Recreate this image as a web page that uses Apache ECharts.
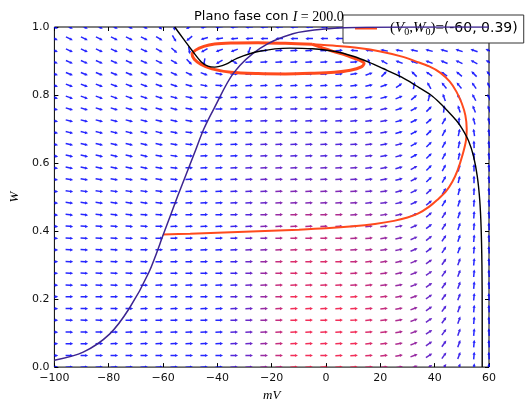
<!DOCTYPE html>
<html>
<head>
<meta charset="utf-8">
<script src="https://cdn.jsdelivr.net/npm/echarts@6/dist/echarts.min.js"></script>
<style>
  html, body { margin: 0; padding: 0; background: #fff; }
  #chart { width: 527px; height: 407px; }
</style>
</head>
<body>
<div id="chart"></div>
<script>
// Axis ticks
const xTicks = [-100, -80, -60, -40, -20, 0, 20, 40, 60];
const yTicks = [0.0, 0.2, 0.4, 0.6, 0.8, 1.0];

// Direction-field sample points (V columns, W rows from top to bottom)
const gridV = [-100, -94.48, -88.97, -83.45, -77.93, -72.41, -66.90, -61.38, -55.86, -50.34,
  -44.83, -39.31, -33.79, -28.28, -22.76, -17.24, -11.72, -6.21, -0.69, 4.83,
  10.34, 15.86, 21.38, 26.90, 32.41, 37.93, 43.45, 48.97, 54.48, 60];
const gridW = [1.000, 0.966, 0.931, 0.897, 0.862, 0.828, 0.793, 0.759, 0.724, 0.690,
  0.655, 0.621, 0.586, 0.552, 0.517, 0.483, 0.448, 0.414, 0.379, 0.345,
  0.310, 0.276, 0.241, 0.207, 0.172, 0.138, 0.103, 0.069, 0.034, 0.000];

// Arrow direction on screen, degrees (0 = right, 90 = up), one row per gridW entry
const arrowAngle = [
  [-26,-26,-26,-26,-26,-26,-26,-40,-85,-150,-165,-172,-174,-176,-177,-178,-178,-179,-179,-179,180,180,180,180,180,180,180,180,180,180],
  [-26,-26,-26,-26,-26,-26,-26,-32,-60,-140,-165,-172,-175,-177,-178,-178,-179,-179,180,180,180,180,180,180,180,180,180,180,180,180],
  [-25,-25,-25,-25,-25,-25,-25,-28,-40,-80,-150,-160,-160,-110,5,5,5,5,5,5,175,172,170,170,168,166,165,162,160,158],
  [-24,-24,-24,-24,-24,-24,-24,-25,-30,-45,-100,-150,-30,5,5,5,5,5,5,5,5,110,150,160,160,160,158,155,152,150],
  [-22,-22,-22,-22,-22,-22,-22,-22,-24,-25,-20,-12,0,3,3,3,3,3,3,3,10,20,45,100,135,145,145,140,135,130],
  [-21,-21,-21,-21,-21,-21,-21,-20,-18,-15,-10,-5,2,2,2,2,2,2,2,2,8,12,20,35,80,120,130,130,125,120],
  [-19,-19,-19,-19,-19,-19,-18,-17,-15,-12,-7,-2,2,2,2,2,2,2,2,2,6,10,15,22,40,75,110,120,118,115],
  [-17,-17,-17,-17,-17,-17,-17,-16,-14,-10,-5,0,2,2,2,2,2,2,2,2,5,8,12,18,28,45,82,108,112,110],
  [-15,-15,-15,-15,-15,-15,-15,-14,-12,-8,-3,1,1,1,1,1,1,1,1,1,4,7,10,15,26,42,60,88,105,105],
  [-14,-14,-14,-14,-14,-14,-14,-13,-11,-6,-1,1,1,1,1,1,1,1,1,2,3,6,10,15,28,45,62,78,98,100],
  [-13,-13,-13,-13,-13,-13,-13,-12,-10,-4,1,2,2,2,2,2,2,2,2,2,3,6,10,15,28,45,62,78,92,97],
  [-12,-12,-12,-12,-12,-12,-12,-11,-8,-2,2,2,2,2,2,2,2,2,2,2,3,6,10,15,28,45,62,78,92,97],
  [-11,-11,-11,-11,-11,-11,-11,-10,-6,-1,2,2,2,2,2,2,2,2,2,2,3,6,10,15,28,45,62,78,90,96],
  [-10,-10,-10,-10,-10,-10,-10,-9,-4,1,2,2,2,2,2,2,2,2,2,2,3,5,9,14,27,44,60,76,90,96],
  [-8,-8,-8,-8,-8,-8,-8,-7,0,2,2,2,2,2,2,2,2,2,2,2,3,5,9,14,26,43,60,75,88,95],
  [-7,-7,-7,-7,-7,-7,-7,-5,0,2,2,2,2,2,2,2,2,2,2,2,3,5,8,12,25,40,58,72,86,95],
  [-6,-6,-6,-6,-6,-6,-5,-3,1,2,2,2,2,2,2,2,2,2,2,2,3,5,8,12,25,40,58,72,86,95],
  [-5,-5,-5,-5,-5,-5,-4,-1,2,2,2,2,2,2,2,2,2,2,2,2,3,5,8,12,24,39,57,71,85,94],
  [-4,-4,-4,-4,-4,-4,-3,0,2,2,2,2,2,2,2,2,2,2,2,2,3,5,8,12,23,38,56,71,85,94],
  [-3,-3,-3,-3,-3,-3,-1,1,2,2,2,2,2,2,2,2,2,2,2,2,3,5,7,11,22,37,56,70,85,94],
  [-3,-3,-3,-3,-3,-2,-1,1,2,2,2,2,2,2,2,2,2,2,2,2,3,4,7,11,22,36,55,70,85,94],
  [-2,-2,-2,-2,-2,-2,0,1,1,1,1,1,1,1,1,1,1,1,1,2,3,4,7,11,21,36,55,70,85,94],
  [-2,-2,-2,-2,-2,-1,0,1,1,1,1,1,1,1,1,1,1,1,1,2,3,4,7,10,21,35,55,70,85,94],
  [-1,-1,-1,-1,-1,0,1,1,1,1,1,1,1,1,1,1,1,1,1,2,3,4,6,10,20,35,54,70,85,94],
  [-1,-1,-1,-1,-1,0,1,1,1,1,1,1,1,1,1,1,1,1,1,2,3,4,6,10,20,35,54,70,85,94],
  [-1,-1,-1,-1,0,1,1,1,1,1,1,1,1,1,1,1,1,1,1,2,3,4,6,10,20,34,54,70,85,94],
  [-1,-1,-1,0,1,1,1,1,1,1,1,1,1,1,1,1,1,1,1,2,3,4,6,10,20,34,54,70,85,94],
  [-1,0,0,1,1,1,1,1,1,1,1,1,1,1,1,1,1,1,1,2,3,4,6,10,20,34,54,70,85,94],
  [0,1,1,1,1,1,1,1,1,1,1,1,1,1,1,1,1,1,1,2,3,4,6,10,20,34,54,70,85,94],
  [1,1,1,1,1,1,1,1,1,1,1,1,1,1,1,1,1,1,1,2,3,4,6,10,20,34,54,70,85,94]
];

// Field speed per arrow, 0 (slow, blue) .. 9 (fast, red)
const arrowSpeed = [
  '000000000000000000000000000000',
  '000000000000000000000000000000',
  '000000000000000000000000000000',
  '000000000000000000000000000000',
  '000000000000000000000000000000',
  '000000000000000000000000000000',
  '000000000000000000000000000000',
  '000000000000001111111110000000',
  '000000000000001111111110000000',
  '000000000000001111111110000000',
  '000000000000012222222211000000',
  '000000000000012222222211000000',
  '000000000000123333333221100000',
  '000000000000123333333221100000',
  '000000000000123444444332110000',
  '000000000000123444444332110000',
  '000000000000124566665543211000',
  '000000000000124566665543211000',
  '000000000000134677776654321000',
  '000000000000134677776654321000',
  '000000000000135788887765432100',
  '000000000000135788887765432100',
  '000000000000135788887765432100',
  '000000000000235799999876532100',
  '000000000000235799999876532100',
  '000000000000235799999876532100',
  '000000000000235799999876532100',
  '000000000000235799999876532100',
  '000000000000235799999876532100',
  '000000000000235799999876532100'
];

// W-nullcline (purple)
const wNullV = [-100, -89.4, -79.7, -72.4, -65.2, -59.7, -54.5, -48.5, -45, -41.2, -34, -24.3, -12.2, -0.2, 15, 60];
const wNullW = [0.02, 0.044, 0.097, 0.173, 0.279, 0.394, 0.505, 0.628, 0.70, 0.761, 0.865, 0.937, 0.98, 0.994, 0.999, 1.0];

// V-nullcline (black)
const vNullV = [-55.7, -52.5, -49.6, -46, -43.5, -41, -37, -32.8, -25, -13.3, -5, 3.4, 10, 15.7, 21, 27.7, 33, 38.6, 42, 44.8, 48, 50.2, 52.5, 54.3, 55.7, 56.6, 57.1, 57.4, 57.5, 57.5];
const vNullW = [1.0, 0.965, 0.934, 0.898, 0.885, 0.882, 0.89, 0.908, 0.928, 0.938, 0.936, 0.928, 0.914, 0.897, 0.878, 0.853, 0.828, 0.80, 0.776, 0.753, 0.725, 0.70, 0.665, 0.62, 0.56, 0.49, 0.41, 0.30, 0.15, 0.0];

// Trajectory from (V0, W0) = (-60, 0.39) until it joins the cycle
const trajV = [-60, -50, -40, -30, -20, -10, 0, 10, 18, 25, 30, 34, 38, 41, 44, 46.5, 48.5, 50.3, 51.5, 51.8, 51.3, 50, 48, 45.5, 42, 38, 33, 28, 20, 12, 4, -5];
const trajW = [0.39, 0.392, 0.395, 0.398, 0.401, 0.404, 0.408, 0.414, 0.421, 0.43, 0.44, 0.452, 0.472, 0.492, 0.515, 0.545, 0.58, 0.625, 0.665, 0.70, 0.74, 0.775, 0.81, 0.84, 0.866, 0.884, 0.899, 0.913, 0.928, 0.938, 0.944, 0.949];

// Limit cycle the trajectory settles on (closed loop)
const cycleV = [-5, -15, -25, -35, -41, -45, -48, -49.3, -48.5, -46, -42, -35, -25, -15, -5, 3, 9, 13, 14, 12.5, 8, 2, -5];
const cycleW = [0.949, 0.952, 0.954, 0.953, 0.950, 0.943, 0.932, 0.92, 0.905, 0.89, 0.877, 0.867, 0.863, 0.862, 0.864, 0.867, 0.873, 0.883, 0.893, 0.902, 0.915, 0.93, 0.949];

const zip = (a, b) => a.map((v, i) => [v, b[i]]);

const fieldData = [];
gridW.forEach((w, r) => {
  gridV.forEach((v, c) => {
    fieldData.push([v, w, arrowAngle[r][c], Number(arrowSpeed[r][c])]);
  });
});

// Arrow outline pointing along +x, centred on its sample point
const ARROW = [[-3.8, -0.75], [0.8, -0.75], [0.8, -1.6], [3.8, 0], [0.8, 1.6], [0.8, 0.75], [-3.8, 0.75]];

const serif = 'Liberation Serif';
const sans = 'DejaVu Sans';
const fmtX = v => (v < 0 ? '\u2212' + Math.abs(v) : String(v));

const chart = echarts.init(document.getElementById('chart'), null, { renderer: 'canvas' });
chart.setOption({
  animation: false,
  title: {
    text: '{a|Plano fase con }{b|I}{c| = 200.0}',
    left: 189, top: 5,
    textStyle: {
      fontWeight: 'normal',
      rich: {
        a: { fontFamily: sans, fontSize: 13, fontWeight: 'normal', color: '#000' },
        b: { fontFamily: serif, fontStyle: 'italic', fontWeight: 'normal', fontSize: 14, color: '#000' },
        c: { fontFamily: serif, fontWeight: 'normal', fontSize: 14, color: '#000' }
      }
    }
  },
  legend: {
    left: 343, top: 15,
    padding: [6, 6, 6, 12],
    backgroundColor: '#fff',
    borderColor: '#333', borderWidth: 1, borderRadius: 0,
    itemWidth: 22, itemHeight: 2,
    data: [{ name: 'traj', icon: 'rect' }],
    formatter: () => '{p|(}{i|V}{s|0}{p|,}{i|W}{s|0}{p|)=}{t|(-60, 0.39)}',
    textStyle: {
      padding: [0, 0, 0, 8],
      rich: {
        p: { fontFamily: serif, fontSize: 15, color: '#000' },
        i: { fontFamily: serif, fontStyle: 'italic', fontSize: 15, color: '#000' },
        s: { fontFamily: serif, fontSize: 10, color: '#000', padding: [7, 0, 0, 0] },
        t: { fontFamily: sans, fontSize: 14, color: '#000' }
      }
    }
  },
  grid: { left: 48, right: 38, top: 27, bottom: 32, show: true, borderColor: '#000', borderWidth: 1, backgroundColor: 'transparent' },
  xAxis: [{
    type: 'value', min: -100, max: 60, interval: 20,
    name: 'mV', nameLocation: 'middle', nameGap: 19,
    nameTextStyle: { fontFamily: serif, fontStyle: 'italic', fontSize: 13, color: '#000' },
    axisLine: { show: false, onZero: false },
    axisTick: { inside: true, length: 4, lineStyle: { color: '#000' } },
    axisLabel: { formatter: fmtX, fontFamily: sans, fontSize: 11, color: '#111', margin: 6 },
    splitLine: { show: false }
  }, {
    type: 'value', min: -100, max: 60, interval: 20, position: 'top',
    axisLine: { show: false, onZero: false },
    axisTick: { inside: true, length: 4, lineStyle: { color: '#000' } },
    axisLabel: { show: false }, splitLine: { show: false }
  }],
  yAxis: [{
    type: 'value', min: 0, max: 1, interval: 0.2,
    name: 'W', nameLocation: 'middle', nameGap: 29, nameRotate: 90,
    nameTextStyle: { fontFamily: serif, fontStyle: 'italic', fontSize: 13, color: '#000' },
    axisLine: { show: false, onZero: false },
    axisTick: { inside: true, length: 4, lineStyle: { color: '#000' } },
    axisLabel: { formatter: v => v.toFixed(1), fontFamily: sans, fontSize: 11, color: '#111', margin: 5 },
    splitLine: { show: false }
  }, {
    type: 'value', min: 0, max: 1, interval: 0.2, position: 'right',
    axisLine: { show: false, onZero: false },
    axisTick: { inside: true, length: 4, lineStyle: { color: '#000' } },
    axisLabel: { show: false }, splitLine: { show: false }
  }],
  series: [
    {
      name: 'field', type: 'custom', clip: true, z: 1,
      data: fieldData,
      renderItem: (params, api) => {
        const p = api.coord([api.value(0), api.value(1)]);
        const s = api.value(3) / 9;
        const col = 'rgb(' + Math.round(240 * s) + ',' + Math.round(10 * s) + ',' + Math.round(255 * (1 - s) + 60 * s) + ')';
        return {
          type: 'polygon', x: p[0], y: p[1], rotation: api.value(2) * Math.PI / 180,
          shape: { points: ARROW },
          style: { fill: col, opacity: 0.85 }
        };
      }
    },
    {
      name: 'traj', type: 'line', data: zip(trajV, trajW), showSymbol: false, smooth: 0.3, z: 3,
      lineStyle: { color: '#ff4a1c', width: 2 }, itemStyle: { color: '#ff4a1c' }
    },
    {
      name: 'cycle', type: 'line', data: zip(cycleV, cycleW), showSymbol: false, smooth: 0.3, z: 3,
      lineStyle: { color: '#ff4a1c', width: 3 }
    },
    {
      name: 'wnull', type: 'line', data: zip(wNullV, wNullW), showSymbol: false, smooth: 0.3, z: 4,
      lineStyle: { color: '#3d2590', width: 1.5 }
    },
    {
      name: 'vnull', type: 'line', data: zip(vNullV, vNullW), showSymbol: false, smooth: 0.3, z: 4,
      lineStyle: { color: '#000', width: 1.4 }
    }
  ]
});
</script>
</body>
</html>
